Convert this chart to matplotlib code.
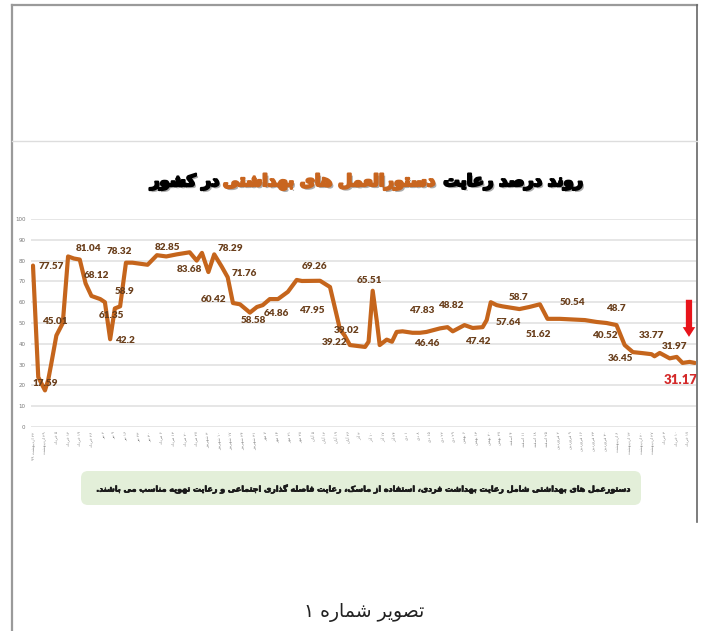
import re
import matplotlib
matplotlib.use('Agg')
import matplotlib.pyplot as plt
import matplotlib.patheffects as pe
from matplotlib.lines import Line2D
from matplotlib.patches import FancyBboxPatch

weeks = [0, 0.9, 2.05, 2.6, 3.1, 4.0, 5.1, 6.0, 7.0, 8.0, 9.0, 10.0, 11.5, 12.3, 13.2,
         14.0, 14.9, 15.9, 17.0, 19.6, 21.2, 22.8, 24.6, 26.8, 28.0, 28.9, 30.0, 31.0,
         32.3, 33.3, 34.2, 35.4, 37.1, 38.3, 39.3, 40.5, 41.9, 43.6, 45.1, 46.0, 49.1,
         50.8, 52.0, 52.5, 53.3, 54.2, 56.8, 57.4, 58.1, 58.8, 59.3, 60.5, 61.4, 62.2,
         63.2, 64.9, 66.2, 67.3, 69.6, 70.9, 71.8, 73.8, 75.2, 76.9, 77.6, 78.3, 79.3,
         80.3, 83.2, 84.9, 86.7, 88.0, 90.1, 94.4, 96.4, 98.1, 99.8, 101.2, 102.6, 104.3,
         105.8, 106.3, 107.2, 108.9, 110.1, 111.1, 112.3, 113.2]
values = [77.6, 24, 17.6, 22.6, 30, 44, 50, 82, 81, 80.5, 69, 63, 61.5, 60, 42.2,
          57, 58, 79, 79, 78, 82.6, 82, 83, 84, 80, 83.7, 74.5, 83,
          77, 72, 59.6, 59, 55, 57.7, 58.6, 61.5, 61.5, 65, 70.7, 70.2, 70.3,
          67.3, 53, 47, 44, 39.4, 38.5, 41, 65.5, 51, 39.4, 42, 41, 45.7,
          46, 45.3, 45.3, 45.7, 47.4, 48, 46, 49, 47.6, 48, 51.4, 60, 58.6,
          58, 56.7, 57.7, 59, 52, 52, 51.4, 50.5, 50, 49, 39.4, 36, 35.5,
          35, 34, 35.6, 33, 33.7, 30.8, 31.3, 30.8]

label_values = [77.57, 17.59, 45.01, 81.04, 68.12, 61.35, 58.9, 42.2, 78.32, 82.85,
                83.68, 60.42, 78.29, 71.76, 58.58, 64.86, 69.26, 47.95, 39.02, 39.22,
                65.51, 47.83, 46.46, 48.82, 47.42, 58.7, 57.64, 51.62, 50.54, 48.7,
                40.52, 36.45, 33.77, 31.97]
label_pos = [(3.2, 77), (2.05, 21), (3.8, 50.6), (9.5, 85.6), (10.9, 72.7), (13.4, 53.4),
             (15.6, 65), (15.7, 41.8), (14.8, 84.3), (23, 86.2), (26.8, 75.5), (30.9, 61.5),
             (33.8, 86), (36.1, 73.9), (37.7, 51.4), (41.7, 54.7), (48.1, 77.4), (47.6, 55.9),
             (53.6, 46.6), (51.6, 40.5), (57.5, 70.3), (66.4, 56.2), (67.3, 40.2), (71.4, 58.2),
             (76.1, 41), (83.1, 62.3), (81.4, 50.1), (86.4, 44.7), (92.3, 60), (99.7, 56.9),
             (97.8, 44.2), (100.5, 33), (105.8, 44.2), (109.7, 38.6)]
last_value = 31.17

tick_labels = ['۲۲ اردیبهشت ۹۹', '۲۹ اردیبهشت', '۵ خرداد', '۱۲ خرداد', '۱۹ خرداد', '۲۶ خرداد',
               '۲ تیر', '۹ تیر', '۱۶ تیر', '۲۳ تیر', '۳۰ تیر', '۶ مرداد', '۱۳ مرداد', '۲۰ مرداد',
               '۲۷ مرداد', '۳ شهریور', '۱۰ شهریور', '۱۷ شهریور', '۲۴ شهریور', '۳۱ شهریور',
               '۷ مهر', '۱۴ مهر', '۲۱ مهر', '۲۸ مهر', '۵ آبان', '۱۲ آبان', '۱۹ آبان', '۲۶ آبان',
               '۳ آذر', '۱۰ آذر', '۱۷ آذر', '۲۴ آذر', '۱ دی', '۸ دی', '۱۵ دی', '۲۲ دی', '۲۹ دی',
               '۶ بهمن', '۱۳ بهمن', '۲۰ بهمن', '۲۷ بهمن', '۴ اسفند', '۱۱ اسفند', '۱۸ اسفند',
               '۲۵ اسفند', '۲ فروردین', '۹ فروردین', '۱۶ فروردین', '۲۳ فروردین', '۳۰ فروردین',
               '۶ اردیبهشت', '۱۳ اردیبهشت', '۲۰ اردیبهشت', '۲۷ اردیبهشت', '۳ خرداد',
               '۱۰ خرداد', '۱۷ خرداد']

title_parts = ['روند درصد رعایت', 'دستورالعمل های بهداشتی', 'در کشور']
note = ('دستورعمل های بهداشتی شامل رعایت بهداشت فردی، استفاده از ماسک، '
        'رعایت فاصله گذاری اجتماعی و رعایت تهویه مناسب می باشند.')
caption = 'تصویر شماره ۱'

# --- minimal persian shaping (matplotlib has no arabic shaping / bidi) ---
FORMS = {
    'ا': '\uFE8D\uFE8E', 'آ': '\uFE81\uFE82', 'د': '\uFEA9\uFEAA', 'ذ': '\uFEAB\uFEAC',
    'ر': '\uFEAD\uFEAE', 'ز': '\uFEAF\uFEB0', 'ژ': '\uFB8A\uFB8B', 'و': '\uFEED\uFEEE',
    'ب': '\uFE8F\uFE90\uFE91\uFE92', 'پ': '\uFB56\uFB57\uFB58\uFB59',
    'ت': '\uFE95\uFE96\uFE97\uFE98', 'ث': '\uFE99\uFE9A\uFE9B\uFE9C',
    'ج': '\uFE9D\uFE9E\uFE9F\uFEA0', 'چ': '\uFB7A\uFB7B\uFB7C\uFB7D',
    'ح': '\uFEA1\uFEA2\uFEA3\uFEA4', 'خ': '\uFEA5\uFEA6\uFEA7\uFEA8',
    'س': '\uFEB1\uFEB2\uFEB3\uFEB4', 'ش': '\uFEB5\uFEB6\uFEB7\uFEB8',
    'ص': '\uFEB9\uFEBA\uFEBB\uFEBC', 'ض': '\uFEBD\uFEBE\uFEBF\uFEC0',
    'ط': '\uFEC1\uFEC2\uFEC3\uFEC4', 'ظ': '\uFEC5\uFEC6\uFEC7\uFEC8',
    'ع': '\uFEC9\uFECA\uFECB\uFECC', 'غ': '\uFECD\uFECE\uFECF\uFED0',
    'ف': '\uFED1\uFED2\uFED3\uFED4', 'ق': '\uFED5\uFED6\uFED7\uFED8',
    'ک': '\uFB8E\uFB8F\uFB90\uFB91', 'گ': '\uFB92\uFB93\uFB94\uFB95',
    'ل': '\uFEDD\uFEDE\uFEDF\uFEE0', 'م': '\uFEE1\uFEE2\uFEE3\uFEE4',
    'ن': '\uFEE5\uFEE6\uFEE7\uFEE8', 'ه': '\uFEE9\uFEEA\uFEEB\uFEEC',
    'ی': '\uFBFC\uFBFD\uFBFE\uFBFF',
}


def fa(text):
    out = []
    for i, c in enumerate(text):
        if c not in FORMS:
            out.append(c)
            continue
        f = FORMS[c]
        prev = text[i - 1] if i > 0 else ''
        nxt = text[i + 1] if i + 1 < len(text) else ''
        jp = prev in FORMS and len(FORMS[prev]) == 4
        jn = len(f) == 4 and nxt in FORMS
        if jp and jn:
            out.append(f[3])
        elif jp:
            out.append(f[1])
        elif jn:
            out.append(f[2])
        else:
            out.append(f[0])
    s = ''.join(out)
    s = s.replace('\uFEDF\uFE8E', '\uFEFB').replace('\uFEE0\uFE8E', '\uFEFC')
    tokens = re.findall(r'[0-9\u06F0-\u06F9]+|.', s)
    return ''.join(reversed(tokens))


W, H = 704, 631
line_color = '#c5651c'
label_color = '#6a3f1c'

fig = plt.figure(figsize=(W / 100, H / 100), dpi=100)
fig.patch.set_facecolor('white')

ax = fig.add_axes([31 / W, 1 - 427 / H, 665 / W, 208 / H])
ax.plot(weeks, values, color=line_color, lw=3.0, solid_joinstyle='round',
        solid_capstyle='round', zorder=3)
ax.set_xlim(-0.34, 113.4)
ax.set_ylim(0, 100)
ax.set_yticks(range(0, 101, 10))
ax.grid(axis='y', color='#e2e2e2', lw=1.2)
ax.set_axisbelow(True)
for s in ax.spines.values():
    s.set_visible(False)
ax.tick_params(axis='y', length=0, labelsize=4, labelcolor='#777777', pad=4)
ax.set_xticks(range(0, 2 * len(tick_labels), 2))
ax.set_xticklabels([fa(t) for t in tick_labels], rotation=90, fontsize=3,
                   color='#8a8a8a', family='DejaVu Sans', va='top', ha='center')
ax.tick_params(axis='x', length=0, pad=3)

for v, (x, y) in zip(label_values, label_pos):
    ax.text(x, y, f'{v:g}', ha='center', va='center', fontsize=7.2,
            fontweight='heavy', family='Lato', color=label_color, zorder=4)
ax.text(110.8, 22.6, f'{last_value:g}', ha='center', va='center', fontsize=9.5,
        fontweight='heavy', family='Lato', color='#d42a2a', zorder=4)
ax.annotate('', xy=(112.2, 42.0), xytext=(112.2, 62.5),
            arrowprops=dict(arrowstyle='simple,head_length=0.7,head_width=0.9,tail_width=0.45',
                            color='#e8141b', lw=0))

# page frame
frame = '#9a9a9a'
fig.add_artist(Line2D([12 / W, 12 / W], [0, 1 - 5 / H], color=frame, lw=1.6))
fig.add_artist(Line2D([12 / W, 697 / W], [1 - 5 / H, 1 - 5 / H], color=frame, lw=1.6))
fig.add_artist(Line2D([697 / W, 697 / W], [1 - 5 / H, 1 - 522 / H], color='#666666', lw=1.2))
fig.add_artist(Line2D([12 / W, 697 / W], [1 - 141 / H, 1 - 141 / H], color='#dddddd', lw=1))

# note box
box = FancyBboxPatch((0.81, 1.26), 5.6, 0.34, boxstyle='round,pad=0,rounding_size=0.07',
                     transform=fig.dpi_scale_trans, facecolor='#e3efd9', edgecolor='none')
fig.add_artist(box)

fig.canvas.draw()
r = fig.canvas.get_renderer()

# title in three coloured pieces, right to left
ty = 1 - 182 / H
pieces = []
for txt, col in zip(title_parts, ['black', '#c8651f', 'black']):
    fx = [pe.withSimplePatchShadow(offset=(1.5, -1.5), shadow_rgbFace='#888888', alpha=0.7),
          pe.withStroke(linewidth=1.6, foreground=col)]
    t = fig.text(0, ty, fa(txt), ha='left', va='center', fontsize=16, fontweight='bold',
                 family='DejaVu Sans', color=col, path_effects=fx)
    pieces.append(t)
gaps = [7, 3]
widths = [p.get_window_extent(r).width for p in pieces]
scale = (432 - sum(gaps)) / sum(widths)
for p in pieces:
    p.set_fontsize(16 * scale)
widths = [p.get_window_extent(r).width for p in pieces]
x_right = 367 + (sum(widths) + sum(gaps)) / 2
for i, p in enumerate(pieces):
    x_right -= widths[i]
    p.set_x(x_right / W)
    if i < len(gaps):
        x_right -= gaps[i]

nt = fig.text(362 / W, 1 - 489 / H, fa(note), ha='center', va='center', fontsize=7,
              fontweight='bold', family='DejaVu Sans', color='#1a1a1a',
              path_effects=[pe.withStroke(linewidth=0.5, foreground='#1a1a1a')])
nt.set_fontsize(7 * 534 / nt.get_window_extent(r).width)

ct = fig.text(364 / W, 1 - 613 / H, fa(caption), ha='center', va='center', fontsize=11,
              family='DejaVu Sans', color='#222222')
ct.set_fontsize(11 * 120 / ct.get_window_extent(r).width)

fig.savefig('out.png', dpi=100)
